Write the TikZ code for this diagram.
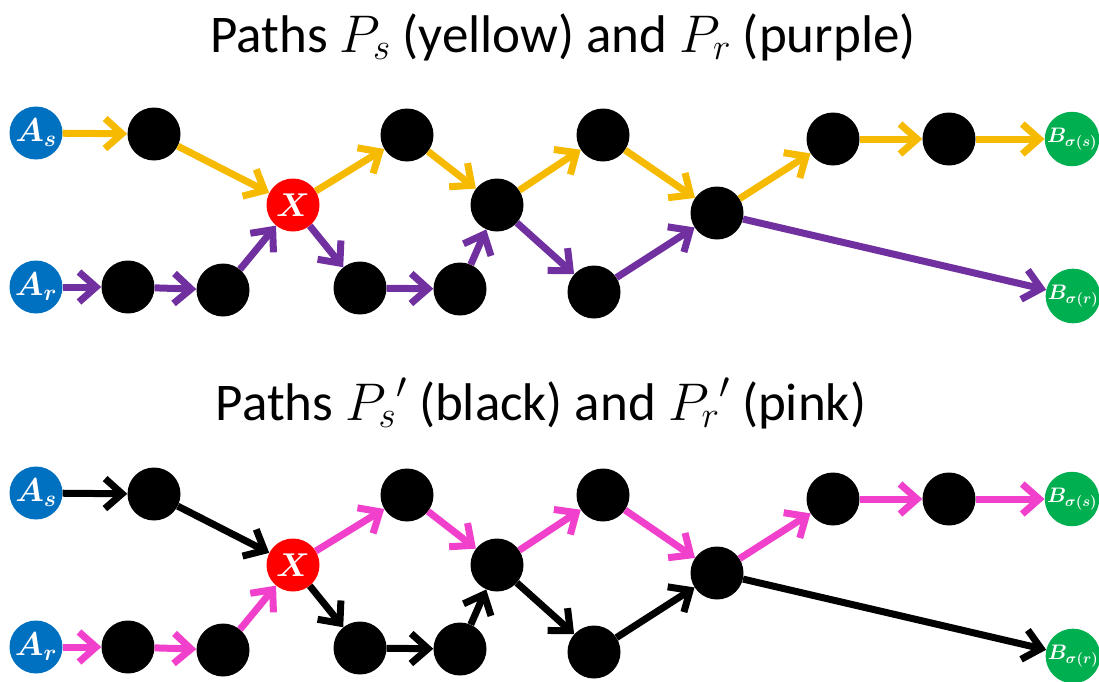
\RequirePackage{fix-cm}
\documentclass[tikz,border=0pt]{standalone}
\usepackage{amsmath}
\usepackage{fontspec}
\setmainfont{Carlito}
\usetikzlibrary{arrows.meta}
\definecolor{srcblue}{RGB}{0,112,192}
\definecolor{dstgreen}{RGB}{0,176,80}
\definecolor{pathyellow}{RGB}{246,186,0}
\definecolor{pathpurple}{RGB}{112,48,160}
\definecolor{pathpink}{RGB}{240,64,204}
\tikzset{
    dot/.style={circle, fill=black, minimum size=53pt, inner sep=0pt},
    src/.style={circle, fill=srcblue, minimum size=53pt, inner sep=0pt, text=white, font=\fontsize{33}{33}\selectfont},
    dst/.style={circle, fill=dstgreen, minimum size=54pt, inner sep=0pt, text=white, font=\fontsize{21}{21}\selectfont},
    meet/.style={circle, fill=red, minimum size=53pt, inner sep=0pt, text=white, font=\fontsize{33}{33}\selectfont},
    heading/.style={anchor=base, font=\fontsize{53}{53}\selectfont},
    arrow/.style={-{Straight Barb[length=17pt, width=30pt]}, line width=7pt},
    arrow_yellow/.style={arrow, draw=pathyellow},
    arrow_purple/.style={arrow, draw=pathpurple},
    arrow_pink/.style={arrow, draw=pathpink},
    arrow_black/.style={arrow, draw=black}
}
\begin{document}
\begin{tikzpicture}[x=1pt, y=-1pt]
    \useasboundingbox (0,0) rectangle (1099,681);

    % Upper graph
    \node (title_top) [heading] at (563,52) {Paths $P_s$ (yellow) and $P_r$ (purple)};

    \node (t_as) [src] at (36,133) {$\boldsymbol{A_s}$};
    \node (t_ar) [src] at (36,287) {$\boldsymbol{A_r}$};
    \node (t_n1) [dot] at (154,134) {};
    \node (t_x) [meet] at (293,205) {$\boldsymbol{X}$};
    \node (t_n3) [dot] at (407,135) {};
    \node (t_n4) [dot] at (497,205) {};
    \node (t_n5) [dot] at (603,135) {};
    \node (t_n6) [dot] at (717,213) {};
    \node (t_n7) [dot] at (833,139) {};
    \node (t_n8) [dot] at (949,139) {};
    \node (t_bs) [dst] at (1072,139) {$\boldsymbol{B_{\sigma(s)}}$};
    \node (t_m1) [dot] at (128,287) {};
    \node (t_m2) [dot] at (223,290) {};
    \node (t_m3) [dot] at (360,288) {};
    \node (t_m4) [dot] at (460,289) {};
    \node (t_m5) [dot] at (594,292) {};
    \node (t_br) [dst] at (1073,296) {$\boldsymbol{B_{\sigma(r)}}$};

    \draw [arrow_yellow] (t_as) -- (t_n1);
    \draw [arrow_yellow] (t_n1) -- (t_x);
    \draw [arrow_yellow] (t_x) -- (t_n3);
    \draw [arrow_yellow] (t_n3) -- (t_n4);
    \draw [arrow_yellow] (t_n4) -- (t_n5);
    \draw [arrow_yellow] (t_n5) -- (t_n6);
    \draw [arrow_yellow] (t_n6) -- (t_n7);
    \draw [arrow_yellow] (t_n7) -- (t_n8);
    \draw [arrow_yellow] (t_n8) -- (t_bs);

    \draw [arrow_purple] (t_ar) -- (t_m1);
    \draw [arrow_purple] (t_m1) -- (t_m2);
    \draw [arrow_purple] (t_m2) -- (t_x);
    \draw [arrow_purple] (t_x) -- (t_m3);
    \draw [arrow_purple] (t_m3) -- (t_m4);
    \draw [arrow_purple] (t_m4) -- (t_n4);
    \draw [arrow_purple] (t_n4) -- (t_m5);
    \draw [arrow_purple] (t_m5) -- (t_n6);
    \draw [arrow_purple] (t_n6) -- (t_br);

    % Lower graph
    \node (title_bot) [heading] at (541,420) {Paths ${P_s}'$ (black) and ${P_r}'$ (pink)};

    \node (b_as) [src] at (36,493) {$\boldsymbol{A_s}$};
    \node (b_ar) [src] at (36,647) {$\boldsymbol{A_r}$};
    \node (b_n1) [dot] at (154,494) {};
    \node (b_x) [meet] at (293,565) {$\boldsymbol{X}$};
    \node (b_n3) [dot] at (407,495) {};
    \node (b_n4) [dot] at (497,565) {};
    \node (b_n5) [dot] at (603,495) {};
    \node (b_n6) [dot] at (717,573) {};
    \node (b_n7) [dot] at (833,499) {};
    \node (b_n8) [dot] at (949,499) {};
    \node (b_bs) [dst] at (1072,499) {$\boldsymbol{B_{\sigma(s)}}$};
    \node (b_m1) [dot] at (128,647) {};
    \node (b_m2) [dot] at (223,650) {};
    \node (b_m3) [dot] at (360,648) {};
    \node (b_m4) [dot] at (460,649) {};
    \node (b_m5) [dot] at (594,652) {};
    \node (b_br) [dst] at (1073,656) {$\boldsymbol{B_{\sigma(r)}}$};

    \draw [arrow_black] (b_as) -- (b_n1);
    \draw [arrow_black] (b_n1) -- (b_x);
    \draw [arrow_black] (b_x) -- (b_m3);
    \draw [arrow_black] (b_m3) -- (b_m4);
    \draw [arrow_black] (b_m4) -- (b_n4);
    \draw [arrow_black] (b_n4) -- (b_m5);
    \draw [arrow_black] (b_m5) -- (b_n6);
    \draw [arrow_black] (b_n6) -- (b_br);

    \draw [arrow_pink] (b_ar) -- (b_m1);
    \draw [arrow_pink] (b_m1) -- (b_m2);
    \draw [arrow_pink] (b_m2) -- (b_x);
    \draw [arrow_pink] (b_x) -- (b_n3);
    \draw [arrow_pink] (b_n3) -- (b_n4);
    \draw [arrow_pink] (b_n4) -- (b_n5);
    \draw [arrow_pink] (b_n5) -- (b_n6);
    \draw [arrow_pink] (b_n6) -- (b_n7);
    \draw [arrow_pink] (b_n7) -- (b_n8);
    \draw [arrow_pink] (b_n8) -- (b_bs);
\end{tikzpicture}
\end{document}
